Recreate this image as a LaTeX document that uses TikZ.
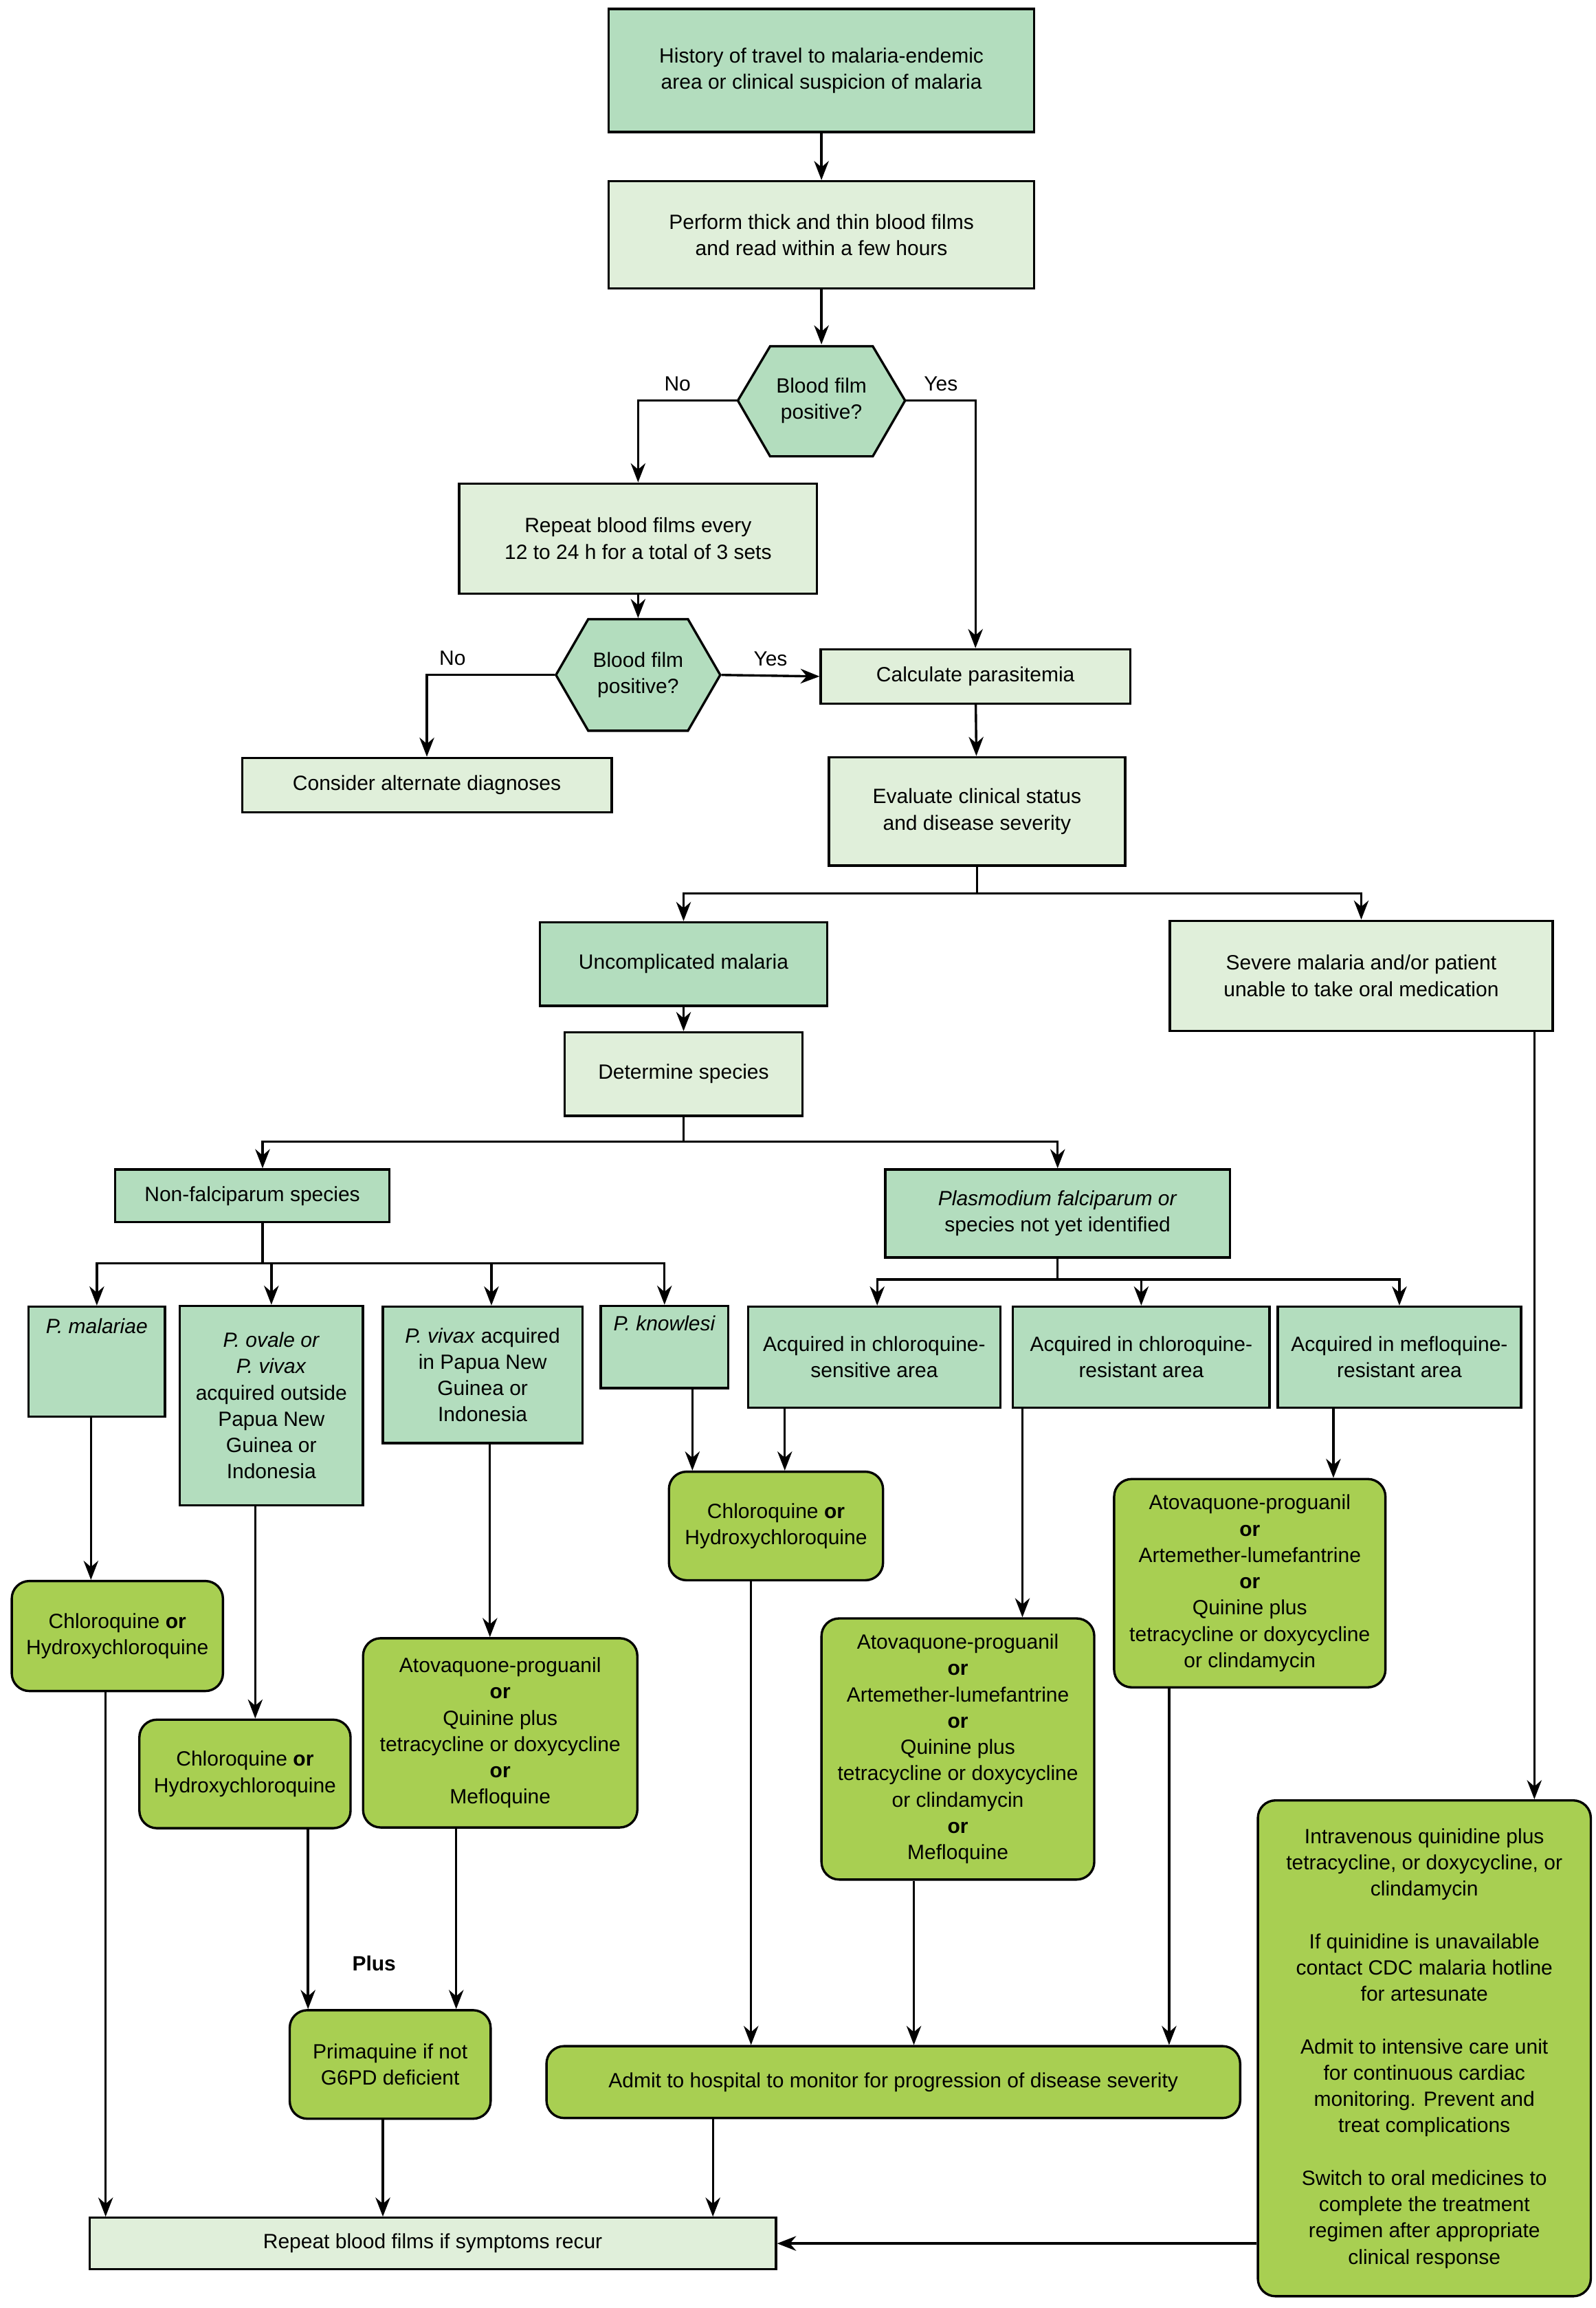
\documentclass[tikz,border=0pt]{standalone}
\usepackage{fontspec}
\setmainfont{Liberation Sans}
\usetikzlibrary{arrows.meta}
\definecolor{darkgr}{RGB}{179,221,190}
\definecolor{lightgr}{RGB}{224,239,218}
\definecolor{limegr}{RGB}{168,207,82}
\tikzset{
  box/.style = {draw=black, line width=0.9pt, align=center, inner sep=2pt, font=\fontsize{8}{10.2}\selectfont},
  dark/.style = {box, fill=darkgr},
  light/.style = {box, fill=lightgr},
  drug/.style = {box, fill=limegr, rounded corners=2.4mm},
  hexa/.style = {box, draw=none, minimum width=2.28cm, minimum height=1.5cm},
  arr/.style = {line width=0.9pt, -{Stealth[length=2.6mm,width=2mm]}},
  lbl/.style = {font=\fontsize{8}{10}\selectfont}
}
\begin{document}
\begin{tikzpicture}[x=0.02cm, y=-0.02cm]
    \useasboundingbox (0,0) rectangle (1088,1573);
    % top of the chart
    \node(hist)[dark, minimum width=5.8cm, minimum height=1.68cm] at (560,48) {History of travel to malaria-endemic\\area or clinical suspicion of malaria};
    \node(films)[light, minimum width=5.8cm, minimum height=1.46cm] at (560,160) {Perform thick and thin blood films\\and read within a few hours};
    \node(pos1)[hexa] at (560,273) {Blood film\\positive?};
    \node(repeat)[light, minimum width=4.88cm, minimum height=1.5cm] at (435,367) {Repeat blood films every\\12 to 24 h for a total of 3 sets};
    \node(pos2)[hexa, minimum width=2.24cm, minimum height=1.52cm] at (435,460) {Blood film\\positive?};
    \fill[darkgr, draw=black, line width=0.9pt] (503,273) -- (525,236) -- (595,236) -- (617,273) -- (595,311) -- (525,311) -- cycle;
    \fill[darkgr, draw=black, line width=0.9pt] (379,460) -- (401,422) -- (469,422) -- (491,460) -- (469,498) -- (401,498) -- cycle;
    \node[hexa] at (560,273) {Blood film\\positive?};
    \node[hexa] at (435,460) {Blood film\\positive?};
    \node(altdx)[light, minimum width=5.04cm, minimum height=0.74cm] at (291,535) {Consider alternate diagnoses};
    \node(calc)[light, minimum width=4.22cm, minimum height=0.74cm] at (665,461) {Calculate parasitemia};
    \node(eval)[light, minimum width=4.04cm, minimum height=1.48cm] at (666,553) {Evaluate clinical status\\and disease severity};
    % severity
    \node(uncomp)[dark, minimum width=3.92cm, minimum height=1.14cm] at (466,657) {Uncomplicated malaria};
    \node(severe)[light, minimum width=5.22cm, minimum height=1.5cm] at (928,665) {Severe malaria and/or patient\\unable to take oral medication};
    \node(species)[light, minimum width=3.24cm, minimum height=1.14cm] at (466,732) {Determine species};
    \node(nonfalc)[dark, minimum width=3.74cm, minimum height=0.72cm] at (172,815) {Non-falciparum species};
    \node(pfalc)[dark, minimum width=4.7cm, minimum height=1.2cm] at (721,827) {\textit{Plasmodium falciparum or}\\species not yet identified};
    % species
    \node(malariae)[dark, minimum width=1.86cm, minimum height=1.5cm] at (66,928) {\textit{P. malariae}\\[2.2em]};
    \node(ovale)[dark, minimum width=2.5cm, minimum height=2.72cm] at (185,958) {\textit{P. ovale or}\\\textit{P. vivax}\\acquired outside\\Papua New\\Guinea or\\Indonesia};
    \node(vivax)[dark, minimum width=2.72cm, minimum height=1.86cm] at (329,937) {\textit{P. vivax} acquired\\in Papua New\\Guinea or\\Indonesia};
    \node(knowlesi)[dark, minimum width=1.74cm, minimum height=1.12cm] at (453,918) {\textit{P. knowlesi}\\[1em]};
    \node(cqsens)[dark, minimum width=3.44cm, minimum height=1.38cm] at (596,925) {Acquired in chloroquine-\\sensitive area};
    \node(cqres)[dark, minimum width=3.5cm, minimum height=1.38cm] at (778,925) {Acquired in chloroquine-\\resistant area};
    \node(mqres)[dark, minimum width=3.32cm, minimum height=1.38cm] at (954,925) {Acquired in mefloquine-\\resistant area};
    % treatments
    \node(cq1)[drug, minimum width=2.92cm, minimum height=1.48cm] at (529,1040) {Chloroquine \textbf{or}\\Hydroxychloroquine};
    \node(cq2)[drug, minimum width=2.88cm, minimum height=1.5cm] at (80,1115) {Chloroquine \textbf{or}\\Hydroxychloroquine};
    \node(cq3)[drug, minimum width=2.88cm, minimum height=1.48cm] at (167,1209) {Chloroquine \textbf{or}\\Hydroxychloroquine};
    \node(atq1)[drug, minimum width=3.74cm, minimum height=2.58cm] at (341,1181) {Atovaquone-proguanil\\\textbf{or}\\Quinine plus\\tetracycline or doxycycline\\\textbf{or}\\Mefloquine};
    \node(atq2)[drug, minimum width=3.72cm, minimum height=3.56cm] at (653,1192) {Atovaquone-proguanil\\\textbf{or}\\Artemether-lumefantrine\\\textbf{or}\\Quinine plus\\tetracycline or doxycycline\\or clindamycin\\\textbf{or}\\Mefloquine};
    \node(atq3)[drug, minimum width=3.7cm, minimum height=2.84cm] at (852,1079) {Atovaquone-proguanil\\\textbf{or}\\Artemether-lumefantrine\\\textbf{or}\\Quinine plus\\tetracycline or doxycycline\\or clindamycin};
    \node(iv)[drug, minimum width=4.54cm, minimum height=6.76cm] at (971,1396) {Intravenous quinidine plus\\tetracycline, or doxycycline, or\\clindamycin\\[10.2pt]If quinidine is unavailable\\contact CDC malaria hotline\\for artesunate\\[10.2pt]Admit to intensive care unit\\for continuous cardiac\\monitoring. Prevent and\\treat complications\\[10.2pt]Switch to oral medicines to\\complete the treatment\\regimen after appropriate\\clinical response};
    \node(prim)[drug, minimum width=2.74cm, minimum height=1.48cm] at (266,1407) {Primaquine if not\\G6PD deficient};
    \node(plus)[lbl] at (255,1338) {\textbf{Plus}};
    \node(admit)[drug, minimum width=9.46cm, minimum height=0.98cm] at (609,1419) {Admit to hospital to monitor for progression of disease severity};
    \node(recur)[light, minimum width=9.36cm, minimum height=0.7cm] at (295,1529) {Repeat blood films if symptoms recur};
    % connectors
    \draw[arr] (hist) -- (films);
    \draw[arr] (films) -- (pos1);
    \draw[arr] (pos1.west) -| (repeat.north) node[lbl, pos=0.3, above] {No};
    \draw[arr] (pos1.east) -| (calc.north) node[lbl, pos=0.25, above] {Yes};
    \draw[arr] (repeat) -- (pos2);
    \draw[arr] (pos2.west) -| (altdx.north) node[lbl, pos=0.4, above] {No};
    \draw[arr] (pos2.east) -- (calc.west) node[lbl, midway, above] {Yes};
    \draw[arr] (calc) -- (eval);
    \coordinate (br1) at (666,609);
    \draw[line width=0.9pt] (eval.south) -- (br1);
    \draw[arr] (br1) -| (uncomp.north);
    \draw[arr] (br1) -| (severe.north);
    \draw[arr] (uncomp) -- (species);
    \coordinate (br2) at (466,778);
    \draw[line width=0.9pt] (species.south) -- (br2);
    \draw[arr] (br2) -| (nonfalc.north -| 179,0);
    \draw[arr] (br2) -| (pfalc.north);
    \coordinate (br3) at (179,861);
    \draw[line width=0.9pt] (nonfalc.south -| 179,0) -- (br3);
    \draw[arr] (br3) -| (malariae.north);
    \draw[arr] (br3) -| (ovale.north);
    \draw[arr] (br3) -| (vivax.north -| 335,0);
    \draw[arr] (br3) -| (knowlesi.north);
    \coordinate (br4) at (721,872);
    \draw[line width=0.9pt] (pfalc.south) -- (br4);
    \draw[arr] (br4) -| (cqsens.north -| 598,0);
    \draw[arr] (br4) -| (cqres.north);
    \draw[arr] (br4) -| (mqres.north);
    \draw[arr] (knowlesi.south -| 472,0) -- (cq1.north -| 472,0);
    \draw[arr] (cqsens.south -| 535,0) -- (cq1.north -| 535,0);
    \draw[arr] (malariae.south -| 62,0) -- (cq2.north -| 62,0);
    \draw[arr] (ovale.south -| 174,0) -- (cq3.north -| 174,0);
    \draw[arr] (vivax.south -| 334,0) -- (atq1.north -| 334,0);
    \draw[arr] (cqres.south -| 697,0) -- (atq2.north -| 697,0);
    \draw[arr] (mqres.south -| 909,0) -- (atq3.north -| 909,0);
    \draw[arr] (severe.south -| 1046,0) -- (iv.north -| 1046,0);
    \draw[arr] (cq3.south -| 210,0) -- (prim.north -| 210,0);
    \draw[arr] (atq1.south -| 311,0) -- (prim.north -| 311,0);
    \draw[arr] (cq1.south -| 512,0) -- (admit.north -| 512,0);
    \draw[arr] (atq2.south -| 623,0) -- (admit.north -| 623,0);
    \draw[arr] (atq3.south -| 797,0) -- (admit.north -| 797,0);
    \draw[arr] (cq2.south -| 72,0) -- (recur.north -| 72,0);
    \draw[arr] (prim.south -| 261,0) -- (recur.north -| 261,0);
    \draw[arr] (admit.south -| 486,0) -- (recur.north -| 486,0);
    \draw[arr] (iv.west |- recur) -- (recur.east);
\end{tikzpicture}
\end{document}
